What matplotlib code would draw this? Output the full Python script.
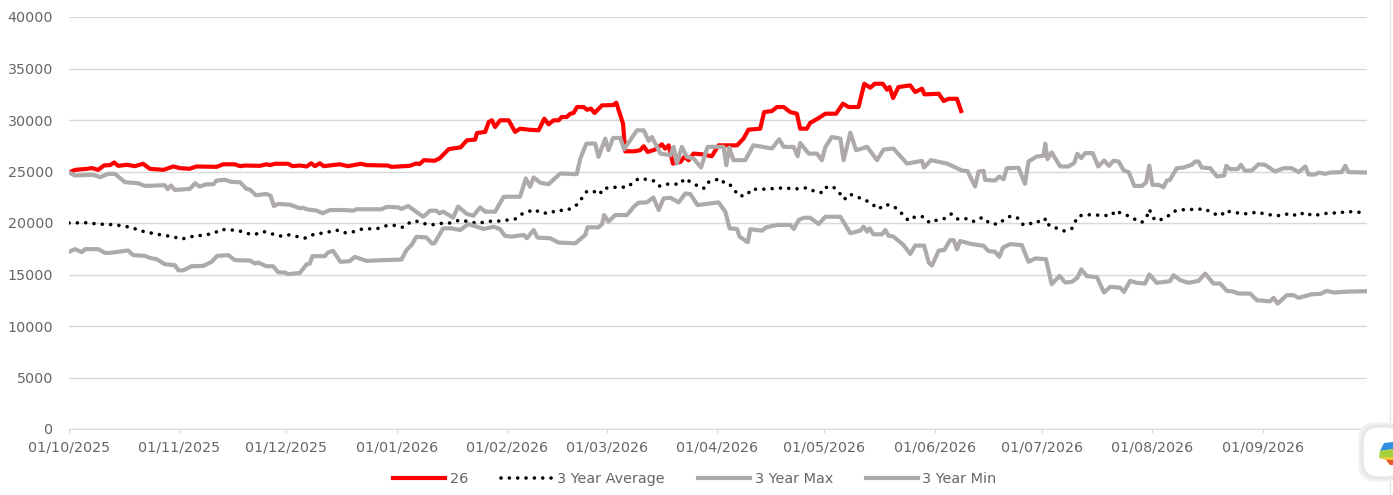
import matplotlib
matplotlib.use("Agg")
import matplotlib.pyplot as plt
from matplotlib.lines import Line2D
from matplotlib.patches import FancyBboxPatch, Polygon

tick_days = [0, 31, 61, 92, 123, 151, 182, 212, 243, 273, 304, 335]
tick_labels = ["01/10/2025", "01/11/2025", "01/12/2025", "01/01/2026", "01/02/2026", "01/03/2026",
               "01/04/2026", "01/05/2026", "01/06/2026", "01/07/2026", "01/08/2026", "01/09/2026"]
y_ticks = [0, 5000, 10000, 15000, 20000, 25000, 30000, 35000, 40000]

# days since 01/10/2025
red_days = [0, 1.7, 5, 6.4, 8.2, 9.8, 11.5, 12.7, 13.8, 16.2, 18.5, 20.8, 22.7, 26.5, 29.3, 31.1, 33.8, 35.8,
            41.4, 43.3, 46.5, 48, 49.4, 53.6, 55.4, 56.4, 57.8, 61.5, 62.7, 64.8, 66.7, 68, 69, 70.4, 71.5, 74,
            76, 78.3, 82, 83.5, 89.5, 90.5, 95.6, 97.5, 98.4, 99.6, 102.6, 104, 106.6, 109.9, 111.7, 114, 114.5,
            116.8, 117.8, 118.7, 119.6, 121, 123.4, 125.2, 126.6, 129, 131.8, 133.4, 134.6, 136, 137.4, 138.3,
            139.7, 140.7, 141.6, 142.6, 144.4, 145.4, 146.5, 147.5, 149.6, 152.8, 153.6, 155.5, 156.1, 158.5,
            160.3, 161.3, 162.4, 164.5, 166.4, 167.3, 168.3, 169.5, 171.6, 172.7, 173.9, 175.3, 177.6, 180.4,
            182.3, 187.5, 189.3, 190.7, 194, 195.1, 197.3, 198.7, 200.6, 202.4, 204.3, 205.2, 207.1, 208, 210.4,
            212.3, 215.3, 217.2, 218.8, 221.6, 223.2, 224.9, 226.1, 228.4, 229.6, 230.3, 231.3, 232.8, 236.1,
            237.5, 239.4, 240.1, 244.1, 245.5, 246.9, 249.2, 250.4]
red_vals = [24900, 25160, 25260, 25330, 25160, 25585, 25620, 25880, 25550, 25650, 25520, 25750, 25260, 25160,
            25490, 25330, 25260, 25490, 25450, 25700, 25700, 25520, 25580, 25550, 25700, 25620, 25750, 25750,
            25520, 25580, 25490, 25800, 25520, 25800, 25520, 25620, 25700, 25520, 25750, 25620, 25580, 25450,
            25550, 25780, 25720, 26100, 26040, 26270, 27180, 27340, 28030, 28100, 28740, 28840, 29810, 29970,
            29320, 29970, 29970, 28840, 29160, 29060, 29000, 30130, 29580, 29970, 29970, 30290, 30290, 30610,
            30680, 31260, 31260, 31000, 31100, 30680, 31420, 31450, 31680, 29640, 26960, 26960, 27060, 27450,
            26900, 27130, 27640, 27220, 27540, 25770, 25930, 26420, 26090, 26740, 26670, 26480, 27540, 27540,
            28190, 29060, 29160, 30770, 30870, 31260, 31260, 30770, 30610, 29160, 29160, 29710, 30190, 30610,
            30610, 31580, 31260, 31260, 33520, 33130, 33520, 33520, 32940, 33200, 32130, 33200, 33360, 32710,
            33040, 32490, 32550, 31840, 32060, 32060, 30870]

avg_days = [0, 5.4, 7.8, 12.9, 17.6, 19.9, 24.6, 29.3, 31.6, 33.9, 38.6, 41, 42.5, 47.5, 49.8, 52.2, 54.5, 59.2,
            61.5, 66.2, 68, 72.7, 75.1, 77, 79.3, 81.6, 86.8, 89.1, 91.4, 93.8, 95.2, 97.1, 99.4, 101.7, 103.6,
            106.4, 109.8, 112.1, 114.5, 118.7, 121, 125.2, 127.1, 130.6, 132.3, 134.9, 137, 139.3, 141.6, 143,
            144.2, 145.4, 147.7, 148.9, 150, 151.9, 154.2, 156.6, 158, 159.9, 162.2, 164.5, 165.8, 167.8, 171.6,
            172.7, 174.4, 176.4, 178.1, 178.9, 182.8, 184.2, 185.6, 188.1, 190.3, 191.5, 194, 201, 203.4, 207.1,
            209.5, 211.6, 212.5, 214.4, 216.5, 217.6, 219.1, 223.5, 225.4, 227.2, 229.1, 231.4, 234.2, 235.6,
            237.5, 239.9, 241.5, 243.6, 245.9, 247.6, 249.2, 251.5, 253.7, 255.3, 256.7, 258.3, 260.7, 262.3,
            264.3, 266.5, 267.7, 269.1, 271.2, 273.3, 274.2, 275.1, 277.1, 279.4, 281.5, 282.4, 283.3, 285.5,
            292.5, 293.8, 295.5, 297.5, 299.5, 301.1, 302.5, 303.2, 303.9, 304.8, 306.9, 308.3, 309.7, 311.4,
            318.9, 320.9, 323.3, 324.7, 326.2, 330.9, 333.4, 335.5, 338, 340.2, 342.6, 344.8, 346.8, 349, 351.2,
            354, 356.3, 358.5, 361, 364.3]
avg_vals = [20000, 20030, 19900, 19830, 19570, 19250, 18920, 18660, 18430, 18660, 18860, 19050, 19380, 19280,
            18990, 18890, 19180, 18730, 18860, 18530, 18830, 19120, 19310, 19050, 19090, 19380, 19480, 19740,
            19770, 19570, 19960, 20220, 19960, 19800, 19960, 19960, 20290, 20130, 19970, 20190, 20190, 20390,
            20870, 21320, 21000, 20930, 21260, 21190, 21520, 21900, 22550, 23100, 23030, 22770, 23390, 23390,
            23520, 23450, 23840, 24320, 24230, 24060, 23580, 23770, 23770, 24320, 24000, 23610, 23350, 23900,
            24320, 23770, 23680, 22610, 22710, 23290, 23260, 23420, 23290, 23420, 23030, 22940, 23450, 23550,
            22810, 22290, 22810, 22230, 21840, 21350, 21810, 21650, 20770, 20230, 20610, 20610, 20030, 20290,
            20450, 20870, 20390, 20450, 20130, 20450, 20520, 19970, 19870, 20290, 20680, 20450, 19870, 19800,
            20190, 20060, 20450, 19740, 19510, 19220, 19480, 20130, 20680, 20810, 20710, 21230, 20880, 20680,
            20290, 20060, 20620, 21330, 20780, 20260, 20360, 20620, 21070, 21270, 21360, 20940, 20710, 21230,
            21040, 20880, 21070, 20880, 20750, 20710, 20940, 20680, 21040, 20710, 20840, 21000, 20940, 21140,
            21040, 21040]

max_days = [0, 1.7, 6.8, 8.7, 11, 12.9, 15.7, 19.4, 21.3, 26.9, 27.7, 28.6, 29.7, 33.9, 35.4, 36.6, 38.6, 40.5,
            41.4, 43.8, 45.6, 48, 49.8, 50.8, 52.5, 55.4, 56.6, 57.5, 58.7, 62, 64.8, 65.7, 66.7, 69.5, 71.2,
            73.2, 77, 79.8, 80.7, 87.7, 89.1, 92.4, 93.3, 95.2, 99.4, 100.3, 101.3, 103.1, 104, 105, 107.8,
            109.2, 111.7, 113.5, 115.4, 116.8, 119.6, 122, 126.6, 128.2, 129.4, 130.4, 132.3, 134.6, 137.9,
            142.5, 143.5, 145.2, 147.7, 148.6, 150.5, 151.4, 152.7, 154.7, 155.8, 159.4, 161.3, 162.7, 163.6,
            166, 168.8, 169.7, 170.6, 172, 173.4, 175.3, 177.4, 179.2, 183.7, 184.5, 185.3, 186.5, 189.8, 192.1,
            197.3, 199.3, 200.6, 203.4, 204.5, 205.2, 207.6, 209.9, 211.3, 212.3, 214.1, 216.5, 217.4, 219.3,
            220.9, 224, 226.8, 228.6, 231.4, 235.2, 239.4, 240, 241.9, 246.4, 250.6, 252.2, 254.3, 255.3, 256.7,
            257.1, 259.9, 261.1, 262.3, 263.2, 266.5, 268.3, 269.3, 271.6, 273.5, 274, 274.6, 275.8, 278.2,
            280.5, 282.1, 283, 284.1, 285.2, 287.3, 288.9, 290.5, 291.9, 293.1, 294.6, 296, 297.4, 299, 301.1,
            302.3, 303.2, 304.1, 305.8, 307.2, 308.1, 309, 310.9, 312.8, 315.1, 316.1, 317, 317.9, 320.3, 322.2,
            324.2, 324.8, 325.9, 328, 328.9, 330.1, 332, 333.9, 335.7, 338.5, 340.9, 343.2, 345.1, 347, 347.9,
            349.8, 350.7, 352.6, 354, 357.2, 358.2, 359.1, 364.3]
max_vals = [24900, 24610, 24680, 24450, 24770, 24770, 23960, 23860, 23600, 23670, 23280, 23640, 23210, 23310,
            23860, 23540, 23760, 23760, 24120, 24190, 23990, 23960, 23310, 23240, 22690, 22820, 22630, 21650,
            21850, 21780, 21430, 21490, 21330, 21200, 20940, 21260, 21260, 21200, 21330, 21330, 21560, 21520,
            21360, 21650, 20610, 20870, 21200, 21200, 20940, 21100, 20515, 21590, 20870, 20710, 21520, 21100,
            21100, 22550, 22550, 24320, 23520, 24420, 23900, 23770, 24810, 24740, 26260, 27710, 27710, 26420,
            28190, 27060, 28260, 28260, 27160, 29000, 29000, 27970, 28350, 26740, 26580, 27390, 25770, 27390,
            26420, 26260, 25390, 27390, 27390, 25610, 27320, 26100, 26100, 27550, 27230, 28130, 27390, 27390,
            26480, 27770, 26740, 26740, 26100, 27390, 28350, 28190, 26100, 28770, 27060, 27390, 26100, 27130,
            27230, 25770, 26030, 25390, 26100, 25770, 25100, 25030, 23540, 25000, 25060, 24190, 24120, 24510,
            24250, 25320, 25360, 23800, 25970, 26460, 26530, 27700, 26200, 26850, 25490, 25490, 25810, 26720,
            26300, 26790, 26790, 25490, 26070, 25550, 26040, 25970, 25100, 24940, 23600, 23600, 23930, 25580,
            23700, 23700, 23470, 24120, 24190, 25320, 25390, 25650, 25970, 25970, 25390, 25320, 24510, 24610,
            25550, 25230, 25230, 25650, 25060, 25100, 25710, 25650, 25000, 25320, 25320, 24940, 25490, 24710,
            24710, 24900, 24770, 24900, 24940, 25550, 24940, 24900]

min_days = [0, 1.7, 3.6, 4.5, 8.2, 10.1, 11.5, 16.6, 18, 21.3, 22.7, 24.6, 26.9, 29.7, 30.7, 32.1, 34.4, 37.7, 40,
            41.6, 44.7, 46.6, 50.8, 52.2, 53.1, 55.4, 57.3, 58.7, 60.6, 61.5, 64.8, 66.7, 67.6, 68.3, 71.8, 72.7,
            74.1, 76.2, 78.8, 80.2, 83.5, 87.7, 93.3, 94.7, 96.1, 97.5, 100.3, 101.9, 102.6, 105, 107.3, 109.8,
            112.1, 116.4, 119.2, 121, 122.4, 124.3, 127.6, 128.5, 130.4, 131.5, 135, 137.4, 142.1, 144.9, 145.5,
            148.6, 149.6, 150.2, 151.4, 153.3, 156.6, 158.5, 159.9, 162.2, 164, 165.5, 166.9, 168.8, 171.1, 173,
            174.4, 176.4, 182.3, 184.2, 185.4, 187.5, 188.2, 190.5, 191.2, 194.5, 195.7, 198.7, 202.4, 203.4,
            204.8, 206.2, 208, 210.4, 212.3, 216.5, 219.3, 222.1, 223, 224, 224.7, 225.8, 228.2, 229.1, 230,
            231.4, 234.2, 236.1, 237.5, 240, 241.3, 242.2, 244.1, 245.7, 247.3, 248.3, 249.2, 250.1, 253.4,
            256.7, 258.1, 259.9, 261.1, 262.1, 264.1, 267.4, 269.3, 271.2, 274.2, 275.8, 278, 279.6, 281.5, 283,
            284.1, 285.7, 288.5, 290.5, 292.2, 295, 296.1, 297.8, 299.7, 302, 303.2, 305.3, 309, 310, 311.9,
            314.2, 317, 318.9, 321.2, 323.1, 325, 326.8, 328.2, 331.5, 333.4, 337.1, 338.1, 339.2, 341.8, 343.7,
            345.1, 348.8, 351.2, 353, 354.9, 359.1, 364.3]
min_vals = [17200, 17460, 17170, 17460, 17460, 17100, 17100, 17330, 16880, 16810, 16610, 16490, 16000, 15900,
            15410, 15410, 15800, 15840, 16230, 16810, 16880, 16390, 16360, 16060, 16160, 15800, 15800, 15220,
            15190, 15030, 15150, 16000, 16060, 16780, 16780, 17140, 17300, 16230, 16290, 16710, 16320, 16390,
            16450, 17360, 17850, 18660, 18600, 18010, 18050, 19480, 19480, 19320, 19900, 19420, 19640, 19390,
            18740, 18680, 18840, 18520, 19320, 18580, 18520, 18100, 18030, 18840, 19580, 19580, 19900, 20770,
            20130, 20770, 20770, 21580, 21970, 22000, 22480, 21260, 22390, 22450, 22000, 22870, 22800, 21740,
            22000, 21100, 19480, 19420, 18680, 18130, 19390, 19260, 19580, 19810, 19810, 19420, 20290, 20510,
            20510, 19900, 20610, 20610, 19000, 19260, 19640, 19160, 19480, 18900, 18900, 19320, 18770, 18680,
            17870, 17000, 17810, 17810, 16160, 15870, 17320, 17390, 18340, 18340, 17430, 18250, 17950, 17790,
            17270, 17210, 16720, 17600, 17950, 17860, 16230, 16560, 16490, 14060, 14870, 14220, 14290, 14680,
            15490, 14840, 14740, 13250, 13800, 13730, 13310, 14380, 14190, 14120, 15000, 14190, 14350, 14930,
            14450, 14190, 14380, 15090, 14120, 14120, 13410, 13340, 13150, 13150, 12500, 12400, 12730, 12170,
            12990, 12990, 12730, 13080, 13120, 13410, 13250, 13340, 13380]

W, H = 1393, 495
plt.rcParams["font.family"] = ["DejaVu Sans"]
TEXT = "#666666"
GRID = "#d9d9d9"
GREY = "#aeaaaa"

fig = plt.figure(figsize=(W / 100, H / 100), dpi=100, facecolor="white")
ax = fig.add_axes([69 / W, (H - 429) / H, (1367 - 69) / W, (429 - 17) / H])

ax.plot(red_days, red_vals, color="#ff0000", lw=3.0, solid_joinstyle="round", label="26", zorder=3)
ax.plot(avg_days, avg_vals, color="#000000", lw=2.6, linestyle=(0, (0.01, 2.3)),
        dash_capstyle="round", label="3 Year Average", zorder=4)
ax.plot(max_days, max_vals, color=GREY, lw=3.0, solid_joinstyle="round", label="3 Year Max", zorder=5)
ax.plot(min_days, min_vals, color=GREY, lw=3.0, solid_joinstyle="round", label="3 Year Min", zorder=6)

ax.set_xlim(0, 364.3)
ax.set_ylim(0, 40000)
ax.set_xticks(tick_days)
ax.set_xticklabels(tick_labels)
ax.set_yticks(y_ticks)
ax.tick_params(axis="x", length=3, color=GRID, labelsize=10.3, labelcolor=TEXT, pad=5)
ax.tick_params(axis="y", length=0, labelsize=10.3, labelcolor=TEXT, pad=11.5)
ax.grid(axis="y", color=GRID, lw=1)
ax.set_axisbelow(True)
for s in ["top", "right", "left"]:
    ax.spines[s].set_visible(False)
ax.spines["bottom"].set_color(GRID)

fig.legend(loc="center", bbox_to_anchor=(695 / W, (H - 479) / H), ncol=4, frameon=False,
           fontsize=10.4, labelcolor=TEXT, handlelength=3.6, handletextpad=0.3, columnspacing=2.3,
           borderpad=0)

# screenshot leftovers at the right edge
fig.add_artist(Line2D([1389.5 / W] * 2, [0, 1], color="#e4e4e4", lw=1, zorder=7))
for grow, col in [(4, "#f1f1f1"), (2, "#e9e9e9"), (0, "white")]:
    fig.add_artist(FancyBboxPatch((1363 / W - grow / W, (H - 477 - grow) / H), (40 + grow) / W, (50 + 2 * grow) / H,
                                  boxstyle="round,pad=0,rounding_size=0.012", transform=fig.transFigure,
                                  fc=col, ec="#e6e6e6" if grow == 0 else col, lw=0.8, zorder=8,
                                  mutation_aspect=W / H))
blob = [([(1380, 451), (1384, 443), (1393, 442), (1393, 449)], "#2f8fe0"),
        ([(1380, 451), (1393, 449), (1393, 457), (1379, 458)], "#a6cf3a"),
        ([(1379, 458), (1393, 457), (1393, 460), (1386, 460)], "#f2c230"),
        ([(1386, 460), (1393, 460), (1393, 465), (1390, 465)], "#f0562c")]
for pts, col in blob:
    fig.add_artist(Polygon([(x / W, (H - y) / H) for x, y in pts], closed=True, transform=fig.transFigure,
                           fc=col, ec="none", zorder=9))

fig.savefig("out.png", dpi=100)
